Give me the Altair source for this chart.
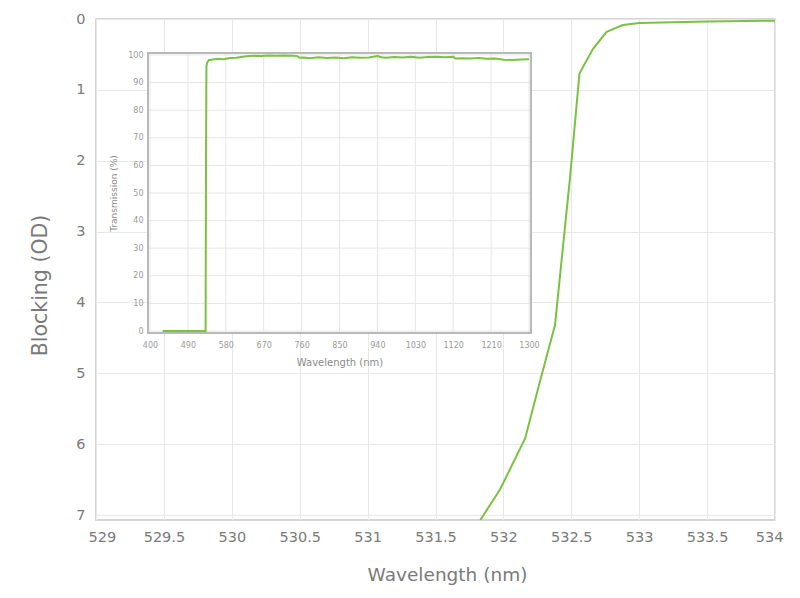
import altair as alt
import pandas as pd

# Main chart: blocking (OD) vs wavelength
main_wl = [531.83, 531.975, 532.16, 532.27, 532.38, 532.45, 532.49, 532.56, 532.66, 532.76, 532.88, 533.0, 533.5, 534.0]
main_od = [7.07, 6.64, 5.92, 5.11, 4.32, 3.0, 2.25, 0.77, 0.42, 0.18, 0.085, 0.056, 0.035, 0.024]
main_xticks = [529, 529.5, 530, 530.5, 531, 531.5, 532, 532.5, 533, 533.5, 534]
main_yticks = [0, 1, 2, 3, 4, 5, 6, 7]

# Inset: transmission (%) vs wavelength
inset_wl = [430, 440, 460, 480, 500, 520, 532, 533, 534, 536, 540, 550, 560, 575, 590, 605, 620, 635, 650,
            665, 680, 700, 720, 740, 750, 755, 765, 780, 800, 820, 840, 860, 880, 900, 920, 940, 950, 960,
            980, 1000, 1020, 1040, 1060, 1080, 1100, 1120, 1125, 1140, 1160, 1180, 1200, 1220, 1240, 1260,
            1280, 1300]
inset_t = [0, 0, 0, 0, 0, 0, 0, 60, 96, 97.3, 98.2, 98.4, 98.6, 98.5, 98.9, 99.0, 99.4, 99.6, 99.7,
           99.6, 99.8, 99.7, 99.8, 99.7, 99.6, 99.0, 99.1, 98.8, 99.2, 98.9, 99.1, 98.8, 99.2, 99.0, 99.1,
           99.6, 99.2, 99.0, 99.3, 99.1, 99.4, 99.0, 99.3, 99.4, 99.2, 99.4, 98.7, 98.8, 98.7, 98.9, 98.6,
           98.7, 98.3, 98.2, 98.4, 98.5]
inset_xticks = [400, 490, 580, 670, 760, 850, 940, 1030, 1120, 1210, 1300]
inset_yticks = [0, 10, 20, 30, 40, 50, 60, 70, 80, 90, 100]

GREEN = "#7bc142"
FONT = "DejaVu Sans"
TEXT = "#7a7a7a"

main_df = pd.DataFrame({"wl": main_wl, "od": main_od})
inset_df = pd.DataFrame({"wl": inset_wl, "t": inset_t})
ix_df = pd.DataFrame({"v": inset_xticks})
iy_df = pd.DataFrame({"v": inset_yticks})
one = pd.DataFrame({"a": [0]})

# inset placement in pixels relative to the main plot area
IX = [54, 433]
IY = [312, 36]
FX0, FX1, FY0, FY1 = 52, 435, 34, 314

main_x = alt.X("wl:Q", title="Wavelength (nm)",
               scale=alt.Scale(domain=[529, 534], nice=False, zero=False),
               axis=alt.Axis(values=main_xticks, format="~f", ticks=False, domain=False,
                             labelFontSize=14.5, labelColor=TEXT, labelFont=FONT, labelPadding=10,
                             labelFlushOffset=8,
                             titleFontSize=18.5, titleColor=TEXT, titleFont=FONT, titleFontWeight="normal",
                             titlePadding=22, titleX=351, gridColor="#e8e8e8"))
main_y = alt.Y("od:Q", title="Blocking (OD)",
               scale=alt.Scale(domain=[0, 7.07], nice=False, reverse=True),
               axis=alt.Axis(values=main_yticks, ticks=False, domain=False,
                             labelFontSize=14.5, labelColor=TEXT, labelFont=FONT, labelPadding=11,
                             titleFontSize=20.5, titleColor=TEXT, titleFont=FONT, titleFontWeight="normal",
                             titlePadding=25, titleY=266, gridColor="#e8e8e8"))

main_line = alt.Chart(main_df).mark_line(color=GREEN, strokeWidth=2, clip=True).encode(x=main_x, y=main_y)

frame = alt.Chart(one).mark_rect(fill="white", stroke="#b8b8b8", strokeWidth=2).encode(
    x=alt.value(FX0), x2=alt.value(FX1), y=alt.value(FY0), y2=alt.value(FY1))

ix_scale = alt.Scale(domain=[400, 1300], range=IX, nice=False, zero=False)
iy_scale = alt.Scale(domain=[0, 100], range=IY, nice=False)

vgrid = alt.Chart(ix_df).mark_rule(color="#e6e6e6", strokeWidth=1).encode(
    x=alt.X("v:Q", scale=ix_scale, axis=None), y=alt.value(FY0 + 1), y2=alt.value(FY1 - 1))
hgrid = alt.Chart(iy_df).mark_rule(color="#e6e6e6", strokeWidth=1).encode(
    y=alt.Y("v:Q", scale=iy_scale, axis=None), x=alt.value(FX0 + 1), x2=alt.value(FX1 - 1))

inset_line = alt.Chart(inset_df).mark_line(color=GREEN, strokeWidth=2).encode(
    x=alt.X("wl:Q", title="Wavelength (nm)", scale=ix_scale,
            axis=alt.Axis(orient="bottom", offset=-187, values=inset_xticks, format="d", grid=False,
                          ticks=False, domain=False, labelFontSize=8, labelColor="#9a9a9a", labelFont=FONT,
                          labelPadding=8, labelFlush=False, titleFontSize=10, titleColor="#8a8a8a",
                          titleFont=FONT, titleFontWeight="normal", titlePadding=8)),
    y=alt.Y("t:Q", title="Transmission (%)", scale=iy_scale,
            axis=alt.Axis(orient="left", offset=-52, values=inset_yticks, grid=False, ticks=False,
                          domain=False, labelFontSize=8, labelColor="#9a9a9a", labelFont=FONT,
                          labelPadding=5, titleFontSize=9, titleColor="#8a8a8a", titleFont=FONT,
                          titleFontWeight="normal", titlePadding=9)),
)

chart = alt.layer(main_line, frame, vgrid, hgrid, inset_line).resolve_scale(
    x="independent", y="independent"
).properties(
    width=679, height=501,
    autosize=alt.AutoSizeParams(type="none"),
    padding={"left": 88, "top": 11, "right": 17, "bottom": 70},
).configure_view(stroke="#c8c8c8", strokeWidth=1.5)

chart.save("out.html", embed_options={"renderer": "svg", "actions": False})
